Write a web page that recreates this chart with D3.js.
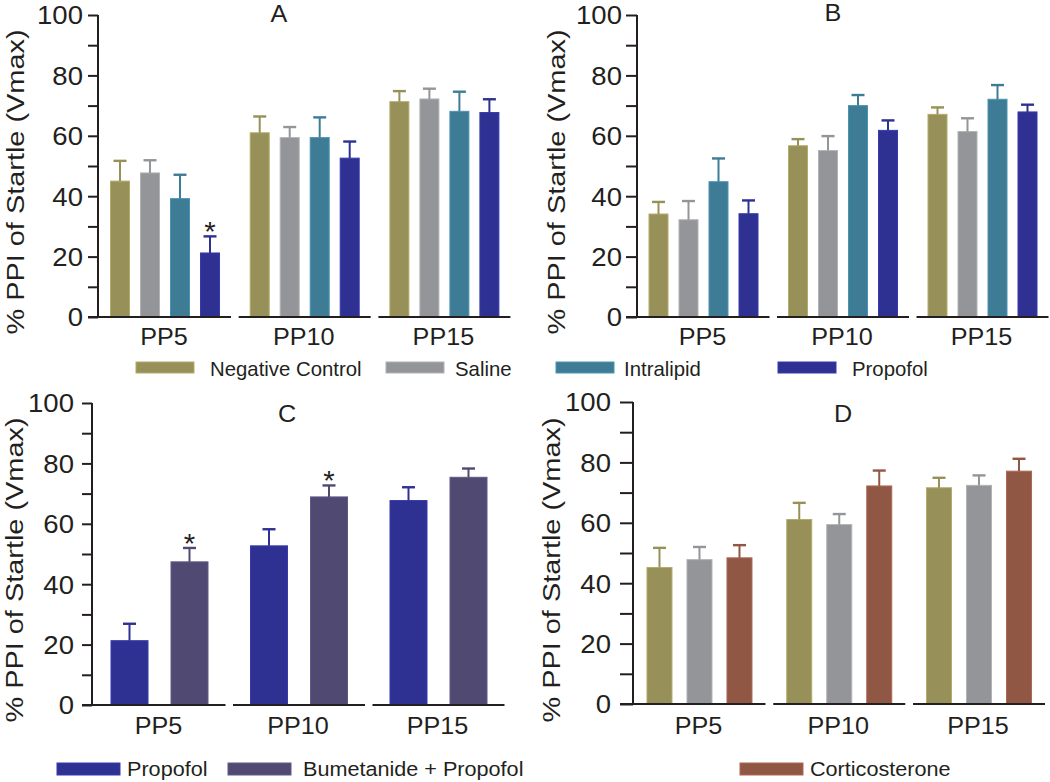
<!DOCTYPE html>
<html>
<head>
<meta charset="utf-8">
<script src="https://cdn.jsdelivr.net/npm/d3@7"></script>
<style>
  html, body { margin: 0; padding: 0; background: #fff; }
  svg { display: block; }
  text { font-family: "Liberation Sans", Arial, sans-serif; fill: #231f20; }
</style>
</head>
<body>
<svg id="chart" width="1050" height="782"></svg>
<script>
// ---------------- DATA ----------------
const categories = ["PP5", "PP10", "PP15"];
const yTicks = [0, 20, 40, 60, 80, 100];
const yMinorTicks = [10, 30, 50, 70, 90];
const yTitle = "% PPI of Startle (Vmax)";

const seriesNames = {
  neg: "Negative Control",
  sal: "Saline",
  intra: "Intralipid",
  prop: "Propofol",
  bume: "Bumetanide + Propofol",
  cort: "Corticosterone"
};

// Panel A
const aNegControl = [45.0, 61.0, 71.3];
const aNegControlSem = [6.7, 5.4, 3.5];
const aSaline = [47.7, 59.4, 72.2];
const aSalineSem = [4.2, 3.5, 3.4];
const aIntralipid = [39.2, 59.4, 68.1];
const aIntralipidSem = [7.9, 6.7, 6.5];
const aPropofol = [21.2, 52.6, 67.7];
const aPropofolSem = [5.5, 5.5, 4.4];
const aSignificant = [["PP5", "prop"]];

// Panel B
const bNegControl = [34.1, 56.7, 67.1];
const bNegControlSem = [4.0, 2.2, 2.3];
const bSaline = [32.2, 55.1, 61.4];
const bSalineSem = [6.2, 4.8, 4.4];
const bIntralipid = [44.8, 70.0, 72.1];
const bIntralipidSem = [7.7, 3.5, 4.7];
const bPropofol = [34.2, 61.8, 67.9];
const bPropofolSem = [4.4, 3.3, 2.4];
const bSignificant = [];

// Panel C
const cPropofol = [21.3, 52.7, 67.7];
const cPropofolSem = [5.6, 5.5, 4.4];
const cBumetanide = [47.4, 68.9, 75.4];
const cBumetanideSem = [4.6, 3.8, 2.9];
const cSignificant = [["PP5", "bume"], ["PP10", "bume"]];

// Panel D
const dNegControl = [45.2, 61.1, 71.6];
const dNegControlSem = [6.5, 5.5, 3.3];
const dSaline = [47.8, 59.4, 72.4];
const dSalineSem = [4.2, 3.5, 3.3];
const dCorticosterone = [48.4, 72.2, 77.1];
const dCorticosteroneSem = [4.2, 5.1, 4.1];
const dSignificant = [];

// ---------------- STYLE ----------------
const colors = {
  neg: "#979058",
  sal: "#939598",
  intra: "#3e7c96",
  prop: "#2e3192",
  bume: "#504a73",
  cort: "#915745"
};
const ink = "#231f20";

// ---------------- LAYOUT ----------------
const panels = [
  { letter: "A", keys: ["neg", "sal", "intra", "prop"],
    means: [aNegControl, aSaline, aIntralipid, aPropofol],
    sems: [aNegControlSem, aSalineSem, aIntralipidSem, aPropofolSem],
    sig: aSignificant,
    axisX: 98, tickLen: 10, yRange: [317, 15], xRange: [95.15, 514.25],
    labelEnd: 83, titleX: 23.5, titleY: 182, letterX: 279, letterY: 22, catY: 345 },
  { letter: "B", keys: ["neg", "sal", "intra", "prop"],
    means: [bNegControl, bSaline, bIntralipid, bPropofol],
    sems: [bNegControlSem, bSalineSem, bIntralipidSem, bPropofolSem],
    sig: bSignificant,
    axisX: 637, tickLen: 11, yRange: [317, 15], xRange: [633.75, 1052.25],
    labelEnd: 622, titleX: 565, titleY: 182, letterX: 833, letterY: 21, catY: 345 },
  { letter: "C", keys: ["prop", "bume"],
    means: [cPropofol, cBumetanide],
    sems: [cPropofolSem, cBumetanideSem],
    sig: cSignificant,
    axisX: 92, tickLen: 10, yRange: [705, 403], xRange: [89.75, 508.25],
    labelEnd: 74, titleX: 22.5, titleY: 570, letterX: 287, letterY: 422, catY: 734 },
  { letter: "D", keys: ["neg", "sal", "cort"],
    means: [dNegControl, dSaline, dCorticosterone],
    sems: [dNegControlSem, dSalineSem, dCorticosteroneSem],
    sig: dSignificant,
    axisX: 633, tickLen: 13, yRange: [704, 402], xRange: [629.6, 1048.9],
    labelEnd: 611, titleX: 560, titleY: 570, letterX: 843, letterY: 422, catY: 734 }
];

const svg = d3.select("#chart");

function sText(g, str, x, y, size, sx, anchor, rot) {
  return g.append("text")
    .attr("transform", `translate(${x},${y})` + (rot ? ` rotate(${rot})` : "") + ` scale(${sx},1)`)
    .attr("font-size", size)
    .attr("text-anchor", anchor || "start")
    .text(str);
}

panels.forEach(p => {
  const g = svg.append("g");
  const y = d3.scaleLinear().domain([0, 100]).range(p.yRange);
  const x0 = d3.scaleBand().domain(categories).range(p.xRange).paddingInner(0).paddingOuter(0);
  const n = p.keys.length;
  const barW = n === 4 ? 19 : (n === 3 ? 25 : 37);
  const stepIn = n === 4 ? 30 : (n === 3 ? 40 : 60);
  const span = stepIn * n;
  const pad = (stepIn - barW) / stepIn;
  const x1 = d3.scaleBand().domain(p.keys).range([-span / 2, span / 2])
    .paddingInner(pad).paddingOuter(pad / 2);

  // y axis
  const axis = d3.axisLeft(y).tickValues(yTicks.concat(yMinorTicks)).tickSize(p.tickLen).tickFormat("");
  const ax = g.append("g").attr("transform", `translate(${p.axisX},0)`).call(axis);
  ax.select(".domain").attr("stroke", ink).attr("stroke-width", 2)
    .attr("d", `M0,${p.yRange[1]}V${p.yRange[0]}`);
  ax.selectAll(".tick line").attr("stroke", ink).attr("stroke-width", 2);

  yTicks.forEach(v => {
    sText(g, String(v), p.labelEnd, y(v) + 9.3, 26, 1.06, "end");
  });

  // y title
  sText(g, yTitle, p.titleX, p.titleY, 24.5, 1.18, "middle", -90);

  // panel letter
  sText(g, p.letter, p.letterX, p.letterY, 24, 1.05, "middle");

  // bars
  const cx = (c, k) => x0(c) + x0.bandwidth() / 2 + x1(k);
  p.keys.forEach((k, si) => {
    const col = colors[k];
    const rows = categories.map((c, ci) => ({ c, v: p.means[si][ci], e: p.sems[si][ci] }));
    g.selectAll(null).data(rows).enter().append("rect")
      .attr("x", d => cx(d.c, k))
      .attr("y", d => y(d.v))
      .attr("width", x1.bandwidth())
      .attr("height", d => y(0) - y(d.v))
      .attr("fill", col)
      .attr("stroke", d3.color(col).brighter(0.5))
      .attr("stroke-width", 1);
    g.selectAll(null).data(rows).enter().append("line")
      .attr("x1", d => cx(d.c, k) + x1.bandwidth() / 2)
      .attr("x2", d => cx(d.c, k) + x1.bandwidth() / 2)
      .attr("y1", d => y(d.v))
      .attr("y2", d => y(d.v + d.e))
      .attr("stroke", col).attr("stroke-width", 2);
    g.selectAll(null).data(rows).enter().append("line")
      .attr("x1", d => cx(d.c, k) + x1.bandwidth() / 2 - 6.5)
      .attr("x2", d => cx(d.c, k) + x1.bandwidth() / 2 + 6.5)
      .attr("y1", d => y(d.v + d.e))
      .attr("y2", d => y(d.v + d.e))
      .attr("stroke", col).attr("stroke-width", 2.4);
  });

  // significance stars
  p.sig.forEach(([c, k]) => {
    const si = p.keys.indexOf(k);
    const ci = categories.indexOf(c);
    const top = y(p.means[si][ci] + p.sems[si][ci]);
    sText(g, "*", cx(c, k) + x1.bandwidth() / 2, top + 5, 28, 1.05, "middle");
  });

  // x baseline segments + category labels
  categories.forEach((c, ci) => {
    const center = x0(c) + x0.bandwidth() / 2;
    const xa = ci === 0 ? p.axisX - p.tickLen : center - 66;
    g.append("line")
      .attr("x1", xa).attr("x2", center + 66)
      .attr("y1", y(0)).attr("y2", y(0))
      .attr("stroke", ink).attr("stroke-width", 2);
    sText(g, c, center - 1, p.catY, 24, 1.05, "middle");
  });
});

// ---------------- LEGENDS ----------------
const topLegend = [
  { k: "neg", sx: 136, tx: 210 },
  { k: "sal", sx: 386, tx: 455 },
  { k: "intra", sx: 556, tx: 624 },
  { k: "prop", sx: 778, tx: 852 }
];
const lg1 = svg.append("g");
topLegend.forEach(d => {
  lg1.append("rect").attr("x", d.sx).attr("y", 362).attr("width", 58).attr("height", 11)
    .attr("fill", colors[d.k]).attr("stroke", d3.color(colors[d.k]).brighter(0.5)).attr("stroke-width", 1);
  sText(lg1, seriesNames[d.k], d.tx, 376, 21, 0.97, "start");
});

const bottomLegend = [
  { k: "prop", sx: 57, tx: 127 },
  { k: "bume", sx: 228, tx: 303 },
  { k: "cort", sx: 740, tx: 810 }
];
const lg2 = svg.append("g");
bottomLegend.forEach(d => {
  lg2.append("rect").attr("x", d.sx).attr("y", 763).attr("width", 63).attr("height", 12)
    .attr("fill", colors[d.k]).attr("stroke", d3.color(colors[d.k]).brighter(0.5)).attr("stroke-width", 1);
  sText(lg2, seriesNames[d.k], d.tx, 776, 21, 1.03, "start");
});
</script>
</body>
</html>
